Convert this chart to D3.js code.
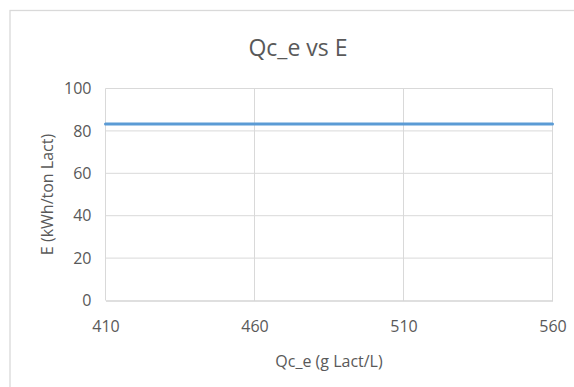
<!DOCTYPE html>
<html>
<head>
<meta charset="utf-8">
<script src="https://cdn.jsdelivr.net/npm/d3@7"></script>
<style>
  html, body { margin: 0; padding: 0; background: #ffffff; }
  svg { display: block; }
  text { font-family: "Open Sans", "Noto Sans", sans-serif; fill: #595959; }
</style>
</head>
<body>
<svg id="chart" width="574" height="387"></svg>
<script>
// Series: Qc_e (g Lact/L) against specific energy E (kWh/ton Lact)
const qcValues = [410, 435, 460, 485, 510, 535, 560];
const eValues = [83.3, 83.3, 83.3, 83.3, 83.3, 83.3, 83.3];

// Axis ticks
const xTicks = [410, 460, 510, 560];
const yTicks = [0, 20, 40, 60, 80, 100];

const titleText = "Qc_e vs E";
const xTitle = "Qc_e (g Lact/L)";
const yTitle = "E (kWh/ton Lact)";

const svg = d3.select("#chart");

const plot = { left: 105.5, right: 552.5, top: 88.5, bottom: 300.5 };

const x = d3.scaleLinear().domain([410, 560]).range([plot.left, plot.right]);
const y = d3.scaleLinear().domain([0, 100]).range([plot.bottom, plot.top]);

// Chart area frame (runs past the right and bottom edges)
svg.append("rect")
  .attr("x", 10).attr("y", 10.5)
  .attr("width", 620).attr("height", 420)
  .attr("fill", "#ffffff")
  .attr("stroke", "#d9d9d9")
  .attr("stroke-width", 1.3);

// Title
svg.append("text")
  .attr("x", 298).attr("y", 56)
  .attr("text-anchor", "middle")
  .style("font-size", "23px")
  .text(titleText);

// Gridlines
const grid = svg.append("g");
grid.selectAll("line.h")
  .data(yTicks.filter(d => d !== 0))
  .join("line")
  .attr("class", "h")
  .attr("x1", plot.left).attr("x2", plot.right)
  .attr("y1", d => y(d)).attr("y2", d => y(d))
  .attr("stroke", "#d9d9d9").attr("stroke-width", 1);
grid.selectAll("line.v")
  .data(xTicks)
  .join("line")
  .attr("class", "v")
  .attr("x1", d => x(d)).attr("x2", d => x(d))
  .attr("y1", plot.top).attr("y2", plot.bottom)
  .attr("stroke", "#d9d9d9").attr("stroke-width", 1);

// X axis
const xAxis = svg.append("g")
  .attr("transform", `translate(0,${plot.bottom})`)
  .call(d3.axisBottom(x).tickValues(xTicks).tickSize(0).tickPadding(20).tickFormat(d3.format("d")));
xAxis.select(".domain").attr("stroke", "#bfbfbf").attr("stroke-width", 1.2);
xAxis.selectAll("text").style("font-size", "16px").attr("fill", "#595959");

// Y axis
const yAxis = svg.append("g")
  .attr("transform", `translate(${plot.left},0)`)
  .call(d3.axisLeft(y).tickValues(yTicks).tickSize(0).tickPadding(14).tickFormat(d3.format("d")));
yAxis.select(".domain").remove();
yAxis.selectAll("text").style("font-size", "16px").attr("fill", "#595959");

// Axis titles
svg.append("text")
  .attr("x", (plot.left + plot.right) / 2).attr("y", 367)
  .attr("text-anchor", "middle")
  .style("font-size", "16px")
  .text(xTitle);

svg.append("text")
  .attr("transform", `translate(53,${(plot.top + plot.bottom) / 2}) rotate(-90)`)
  .attr("text-anchor", "middle")
  .style("font-size", "16px")
  .text(yTitle);

// Series line
const line = d3.line().x((d, i) => x(qcValues[i])).y(d => y(d));
svg.append("path")
  .datum(eValues)
  .attr("d", line)
  .attr("fill", "none")
  .attr("stroke", "#5b9bd5")
  .attr("stroke-width", 3)
  .attr("stroke-linecap", "round");
</script>
</body>
</html>
